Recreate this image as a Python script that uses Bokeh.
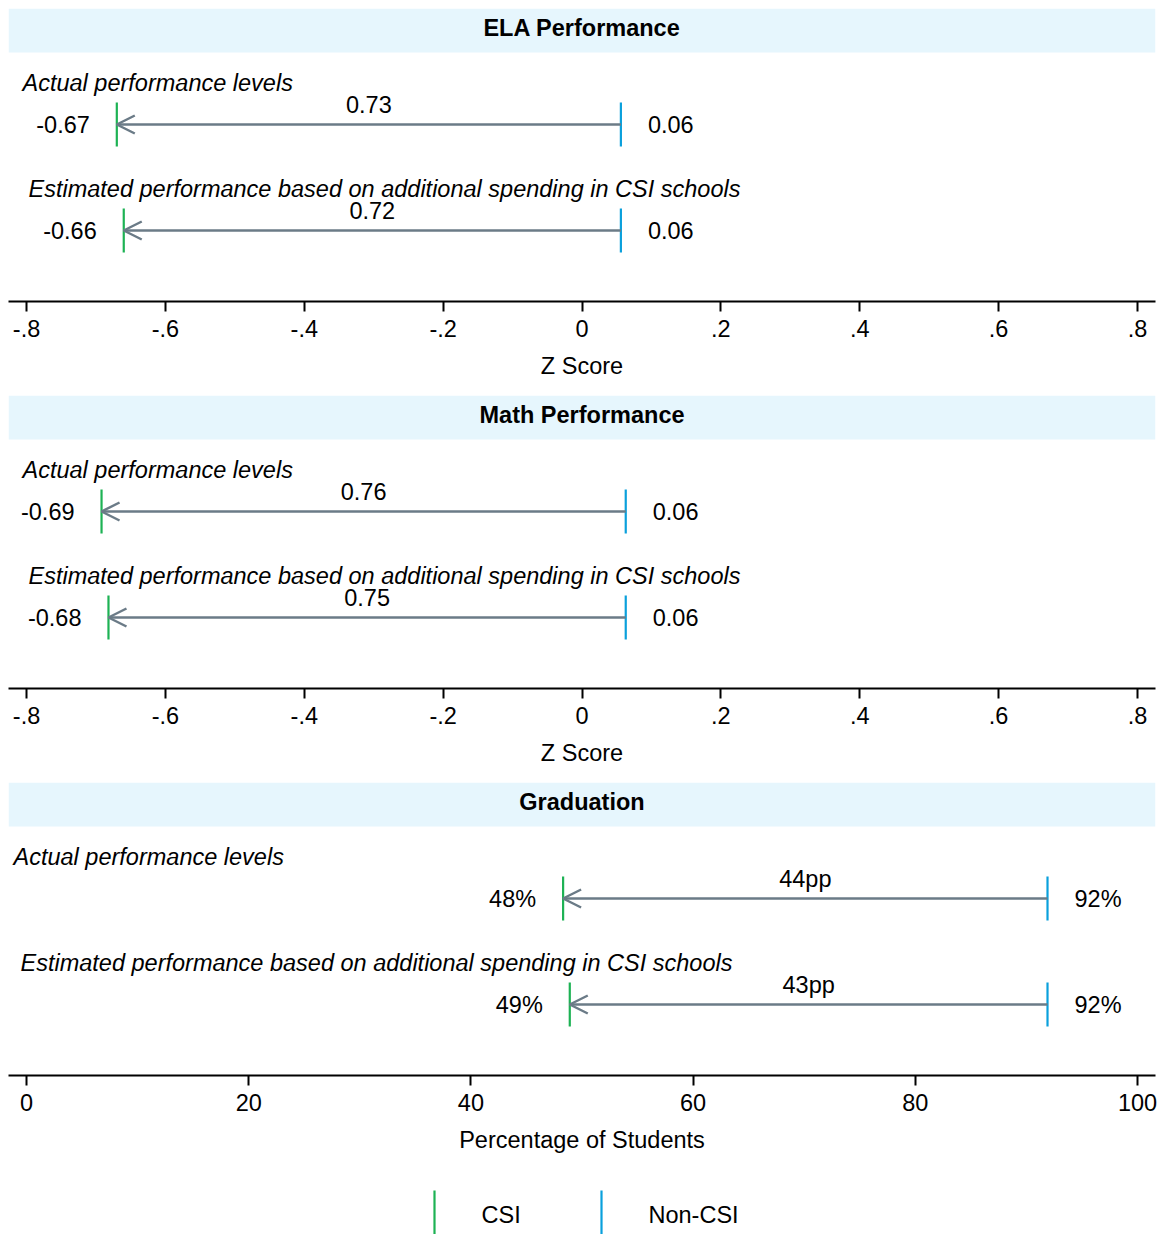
import numpy as np
from bokeh.plotting import figure
from bokeh.layouts import column
from bokeh.models import Range1d, BoxAnnotation, Arrow, OpenHead, FixedTicker, ColumnDataSource
from bokeh.core.properties import value
from bokeh.embed import file_html
from bokeh.resources import INLINE

# ---------------- data ----------------
row_names = ["Actual performance levels",
             "Estimated performance based on additional spending in CSI schools"]

ela_csi = [-0.670, -0.660]
ela_non = [0.056, 0.056]
ela_csi_lbl = ["-0.67", "-0.66"]
ela_non_lbl = ["0.06", "0.06"]
ela_gap_lbl = ["0.73", "0.72"]

math_csi = [-0.692, -0.682]
math_non = [0.063, 0.063]
math_csi_lbl = ["-0.69", "-0.68"]
math_non_lbl = ["0.06", "0.06"]
math_gap_lbl = ["0.76", "0.75"]

grad_csi = [48.3, 48.9]
grad_non = [91.9, 91.9]
grad_csi_lbl = ["48%", "49%"]
grad_non_lbl = ["92%", "92%"]
grad_gap_lbl = ["44pp", "43pp"]

z_ticks = [-0.8, -0.6, -0.4, -0.2, 0, 0.2, 0.4, 0.6, 0.8]
z_tick_labels = ["-.8", "-.6", "-.4", "-.2", "0", ".2", ".4", ".6", ".8"]
pct_ticks = [0, 20, 40, 60, 80, 100]
pct_tick_labels = ["0", "20", "40", "60", "80", "100"]

legend_labels = ["CSI", "Non-CSI"]

# ---------------- style ----------------
FONT = "Liberation Sans"
FS = "23.5px"
GREEN = "#1db254"
BLUE = "#0aa0dc"
GRAY = "#6b7b87"
HEADER = "#e6f6fd"
LEFT = 8
FRAME_W = 1147
RIGHT = 3
W = LEFT + FRAME_W + RIGHT
H = 387
ROW_Y = [2, 1]
PX = 106.0                 # pixels per row unit
Y1 = 2 + 116 / PX          # top of frame
Y0 = 1 - 71 / PX           # axis position
HEADER_BOTTOM = Y1 - 44 / PX


def panel(title, csi, non, csi_lbl, non_lbl, gap_lbl, xr, ticks, tick_labels,
          xlabel, row_offsets, top=0):
    p = figure(width=W, height=H + top, x_range=Range1d(*xr), y_range=Range1d(Y0, Y1),
               output_backend="svg", toolbar_location=None, y_axis_location=None,
               min_border_left=LEFT, min_border_right=RIGHT, min_border_top=top,
               min_border_bottom=94, outline_line_color=None,
               background_fill_color="white", border_fill_color="white")
    p.xgrid.visible = False
    p.ygrid.visible = False

    p.add_layout(BoxAnnotation(bottom=HEADER_BOTTOM, fill_color=HEADER, fill_alpha=1,
                               line_color=None, level="underlay"))
    xmid = (xr[0] + xr[1]) / 2
    p.text(x=[xmid], y=[Y1], text=[title], y_offset=19, text_align="center",
           text_baseline="middle", text_font=value(FONT), text_font_size=FS,
           text_font_style="bold", text_color="black")

    # row labels
    rsrc = ColumnDataSource(dict(x=[xr[0]] * len(row_names), y=ROW_Y, t=row_names,
                                 xo=row_offsets))
    p.text(x="x", y="y", text="t", x_offset="xo", y_offset=-42, source=rsrc,
           text_align="left", text_baseline="middle", text_font=value(FONT),
           text_font_size=FS, text_font_style="italic", text_color="black")

    src = ColumnDataSource(dict(csi=csi, non=non, y=ROW_Y,
                                mid=list(np.add(csi, non) / 2),
                                csi_lbl=csi_lbl, non_lbl=non_lbl, gap_lbl=gap_lbl))
    p.add_layout(Arrow(end=OpenHead(size=18, line_color=GRAY, line_width=2.5),
                       x_start="non", y_start="y", x_end="csi", y_end="y",
                       source=src, line_color=GRAY, line_width=2.5))
    p.scatter(x="csi", y="y", source=src, marker="dash", angle=np.pi / 2, size=44,
              line_color=GREEN, line_width=2.2)
    p.scatter(x="non", y="y", source=src, marker="dash", angle=np.pi / 2, size=44,
              line_color=BLUE, line_width=2.2)

    p.text(x="csi", y="y", text="csi_lbl", source=src, x_offset=-27,
           text_align="right", text_baseline="middle", text_font=value(FONT),
           text_font_size=FS, text_color="black")
    p.text(x="non", y="y", text="non_lbl", source=src, x_offset=27,
           text_align="left", text_baseline="middle", text_font=value(FONT),
           text_font_size=FS, text_color="black")
    p.text(x="mid", y="y", text="gap_lbl", source=src, y_offset=-20,
           text_align="center", text_baseline="middle", text_font=value(FONT),
           text_font_size=FS, text_color="black")

    ax = p.xaxis[0]
    ax.ticker = FixedTicker(ticks=ticks)
    ax.major_label_overrides = {t: l for t, l in zip(ticks, tick_labels)}
    ax.axis_line_width = 2
    ax.axis_line_color = "black"
    ax.major_tick_line_width = 2
    ax.major_tick_line_color = "black"
    ax.major_tick_out = 10
    ax.major_tick_in = 0
    ax.minor_tick_line_color = None
    ax.major_label_text_font = FONT
    ax.major_label_text_font_size = FS
    ax.major_label_text_color = "black"
    ax.major_label_standoff = 8
    ax.axis_label = xlabel
    ax.axis_label_text_font = FONT
    ax.axis_label_text_font_size = FS
    ax.axis_label_text_font_style = "normal"
    ax.axis_label_text_color = "black"
    ax.axis_label_standoff = 13
    return p


z_range = (-0.826, 0.826)
p_range = (-1.62, 101.62)

p1 = panel("ELA Performance", ela_csi, ela_non, ela_csi_lbl, ela_non_lbl, ela_gap_lbl,
           z_range, z_ticks, z_tick_labels, "Z Score", [14, 20], top=8)
p2 = panel("Math Performance", math_csi, math_non, math_csi_lbl, math_non_lbl,
           math_gap_lbl, z_range, z_ticks, z_tick_labels, "Z Score", [14, 20])
p3 = panel("Graduation", grad_csi, grad_non, grad_csi_lbl, grad_non_lbl, grad_gap_lbl,
           p_range, pct_ticks, pct_tick_labels, "Percentage of Students", [5, 12])

# ---------------- legend ----------------
LH = 65
leg = figure(width=W, height=LH, x_range=Range1d(0, FRAME_W), y_range=Range1d(0, LH),
             output_backend="svg", toolbar_location=None, x_axis_location=None,
             y_axis_location=None, min_border=0, min_border_left=LEFT,
             min_border_right=RIGHT, outline_line_color=None)
leg.xgrid.visible = False
leg.ygrid.visible = False
item_x = [426, 593]
lsrc = ColumnDataSource(dict(x=item_x, y=[LH - 43] * 2, c=[GREEN, BLUE], t=legend_labels))
leg.scatter(x="x", y="y", source=lsrc, marker="dash", angle=np.pi / 2, size=44,
            line_color="c", line_width=2.2)
leg.text(x="x", y="y", text="t", source=lsrc, x_offset=47, y_offset=2,
         text_align="left", text_baseline="middle", text_font=value(FONT),
         text_font_size=FS, text_color="black")

layout = column(p1, p2, p3, leg, spacing=0)
open("out.html", "w").write(file_html(layout, INLINE))
